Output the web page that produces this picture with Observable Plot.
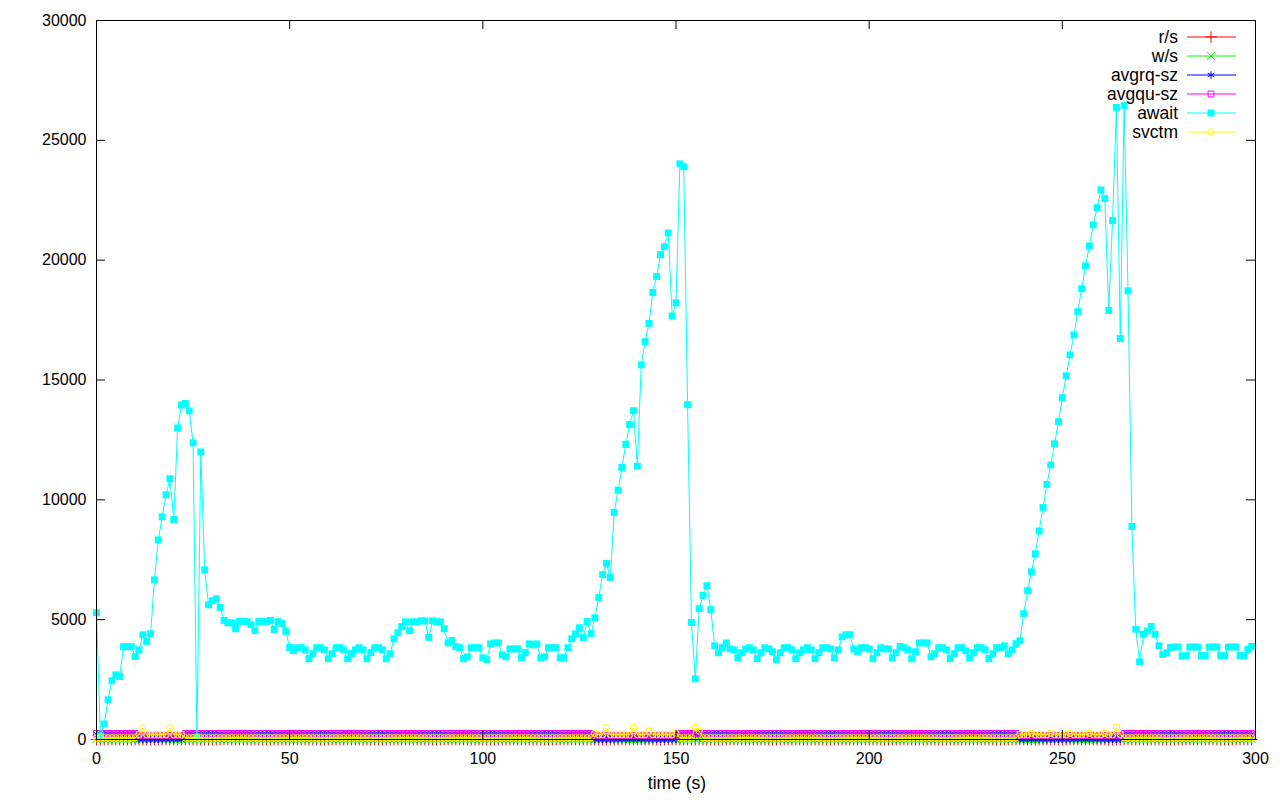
<!DOCTYPE html>
<html><head><meta charset="utf-8">
<script src="https://cdn.jsdelivr.net/npm/d3@7"></script>
<script src="https://cdn.jsdelivr.net/npm/@observablehq/plot@0.6"></script>
<style>body{margin:0;background:#fff}#chart{width:1280px;height:800px}</style>
</head><body><div id="chart"></div>
<script>
// await (ms) per second, t = 0..299
const awaitValues = [
5290,150,650,1660,2450,2700,2630,3870,3870,3870,
3460,3740,4370,4090,4410,6660,8330,9290,10210,10880,
9180,13000,13960,14020,13710,12380,100,12000,7080,5620,
5790,5870,5510,4970,4870,4870,4620,4920,4920,4920,
4790,4540,4920,4920,4920,4970,4590,4920,4840,4510,
3840,3710,3830,3830,3740,3370,3580,3830,3830,3740,
3370,3580,3830,3830,3740,3370,3580,3740,3830,3740,
3370,3630,3830,3830,3740,3370,3580,4200,4450,4710,
4910,4540,4910,4910,4950,4950,4260,4950,4910,4910,
4620,4030,4130,3880,3830,3370,3450,3830,3830,3830,
3410,3330,3990,4030,4030,3530,3450,3780,3780,3780,
3410,3620,3990,3950,3990,3410,3450,3830,3830,3830,
3410,3410,3830,4200,4410,4660,4250,4920,4420,5080,
5920,6880,7350,6760,9470,10400,11350,12310,13140,13720,
11400,15630,16600,17360,18650,19320,20230,20560,21140,17670,
18220,24020,23900,13970,4880,2530,5460,6010,6420,5420,
3910,3620,3830,4030,3780,3740,3410,3620,3780,3830,
3740,3370,3620,3830,3780,3660,3330,3620,3830,3830,
3740,3370,3620,3740,3830,3740,3370,3620,3830,3830,
3780,3410,3740,4280,4370,4370,3780,3660,3830,3830,
3780,3370,3620,3830,3780,3780,3410,3620,3880,3830,
3740,3370,3660,4030,4030,4030,3450,3580,3830,3830,
3740,3370,3580,3830,3830,3700,3410,3620,3830,3830,
3740,3370,3580,3830,3830,3910,3580,3740,4000,4120,
5250,6210,7000,7750,8700,9680,10640,11460,12340,13260,
14260,15170,16050,16880,17850,18810,19760,20590,21470,22190,
22930,22570,17900,21650,26370,16730,26450,18720,8890,4600,
3240,4390,4530,4720,4390,3910,3550,3620,3840,3860,
3860,3480,3500,3860,3860,3860,3500,3500,3860,3860,
3860,3500,3500,3860,3860,3860,3500,3500,3760,3890
];

// small series near zero, as runs [firstSecond, lastSecond, value]
const rsRuns = [[0, 299, 0]];
const wsRuns = [[0, 10, 20], [11, 22, 0], [23, 128, 20], [129, 150, 0], [151, 238, 20], [239, 265, 0], [266, 299, 20]];
const avgrqRuns = [[0, 10, 230], [11, 22, 0], [23, 128, 230], [129, 150, 0], [151, 238, 230], [239, 265, 0], [266, 299, 230]];
const avgquRuns = [[0, 10, 250], [11, 22, 160], [23, 128, 250], [129, 150, 160], [151, 238, 250], [239, 265, 160], [266, 299, 250]];
const svctmRuns = [[0, 10, 70], [11, 22, 200], [23, 128, 70], [129, 150, 200], [151, 238, 70], [239, 265, 200], [266, 299, 70]];
const svctmSpikes = [[12, 480], [19, 480], [129, 260], [132, 500], [139, 500], [143, 350], [150, 260], [155, 500], [156, 350],
  [242, 260], [247, 260], [252, 260], [257, 260], [261, 260], [264, 510]];

const xTicks = [0, 50, 100, 150, 200, 250, 300];
const yTicks = [0, 5000, 10000, 15000, 20000, 25000, 30000];

const seriesNames = ["r/s", "w/s", "avgrq-sz", "avgqu-sz", "await", "svctm"];
const seriesColors = ["#ff0000", "#00ff00", "#0000ff", "#ff00ff", "#00ffff", "#ffff00"];
const seriesSymbols = ["plus", "times", "asterisk", "square", "square", "circle"];

function expandRuns(runs, spikes = []) {
  const out = [];
  for (const [a, b, v] of runs) for (let t = a; t <= b; t++) out[t] = v;
  for (const [t, v] of spikes) out[t] = v;
  return out;
}
const seriesValues = [
  expandRuns(rsRuns), expandRuns(wsRuns), expandRuns(avgrqRuns),
  expandRuns(avgquRuns), awaitValues, expandRuns(svctmRuns, svctmSpikes)
];
const tables = seriesValues.map(vals => vals.map((v, t) => ({t, v})));

const W = 1280, H = 800, mL = 96, mR = 25, mT = 20, mB = 61;
const fw = W - mL - mR, fh = H - mT - mB;
const font = "Liberation Sans, Arial, sans-serif";

function seriesMarks(i) {
  const c = seriesColors[i], s = seriesSymbols[i];
  const filled = i === 4;
  const rr = [3.8, 3.8, 3.6, 3.3, 3.9, 3.2][i];
  return [
    Plot.line(tables[i], {x: "t", y: "v", stroke: c, strokeWidth: 1}),
    Plot.dot(tables[i], filled
      ? {x: "t", y: "v", symbol: s, r: rr, fill: c, stroke: "none"}
      : {x: "t", y: "v", symbol: s, r: rr, fill: "none", stroke: c, strokeWidth: 1})
  ];
}

const chart = Plot.plot({
  width: W, height: H,
  marginLeft: mL, marginRight: mR, marginTop: mT, marginBottom: mB,
  style: {fontFamily: font, fontSize: "16px", background: "#fff", color: "#000"},
  x: {domain: [0, 300]},
  y: {domain: [0, 30000]},
  marks: [
    ...seriesMarks(0), ...seriesMarks(1), ...seriesMarks(2),
    ...seriesMarks(3), ...seriesMarks(4), ...seriesMarks(5),
    Plot.frame({stroke: "#000", strokeWidth: 1}),
    Plot.tickY(yTicks, {y: d => d, stroke: "#000", insetRight: fw - 9}),
    Plot.tickY(yTicks, {y: d => d, stroke: "#000", insetLeft: fw - 9}),
    Plot.tickX(xTicks, {x: d => d, stroke: "#000", insetTop: fh - 9}),
    Plot.tickX(xTicks, {x: d => d, stroke: "#000", insetBottom: fh - 9}),
    Plot.axisX(xTicks, {tickSize: 0, tickPadding: 13, label: null, fontSize: 16}),
    Plot.axisY(yTicks, {tickSize: 0, tickPadding: 10, label: null, fontSize: 16, tickFormat: d => String(d)}),
    Plot.text(["time (s)"], {text: d => d, frameAnchor: "bottom", dx: 1, dy: 49, fontSize: 17.5})
  ]
});

// legend (gnuplot style, top-right inside the frame)
const svg = d3.select(chart);
const lg = svg.append("g").attr("font-family", font).attr("font-size", 17.5);
seriesNames.forEach((name, i) => {
  const y = 37 + i * 19;
  const c = seriesColors[i];
  lg.append("text").attr("x", 1178).attr("y", y).attr("dy", "0.35em")
    .attr("text-anchor", "end").attr("fill", "#000").text(name);
  lg.append("line").attr("x1", 1187).attr("x2", 1236).attr("y1", y).attr("y2", y)
    .attr("stroke", c).attr("stroke-width", 1);
  const sym = {plus: d3.symbolPlus, times: d3.symbolTimes, asterisk: d3.symbolAsterisk,
               square: d3.symbolSquare, circle: d3.symbolCircle}[seriesSymbols[i]];
  const rr = [3.8, 3.8, 3.6, 3.3, 3.9, 3.2][i];
  const p = lg.append("path").attr("transform", `translate(1211,${y})`)
    .attr("d", d3.symbol(sym, Math.PI * rr * rr)());
  if (i === 4) p.attr("fill", c).attr("stroke", "none");
  else p.attr("fill", "none").attr("stroke", c).attr("stroke-width", 1);
});

document.getElementById("chart").appendChild(chart);
</script>
</body></html>
